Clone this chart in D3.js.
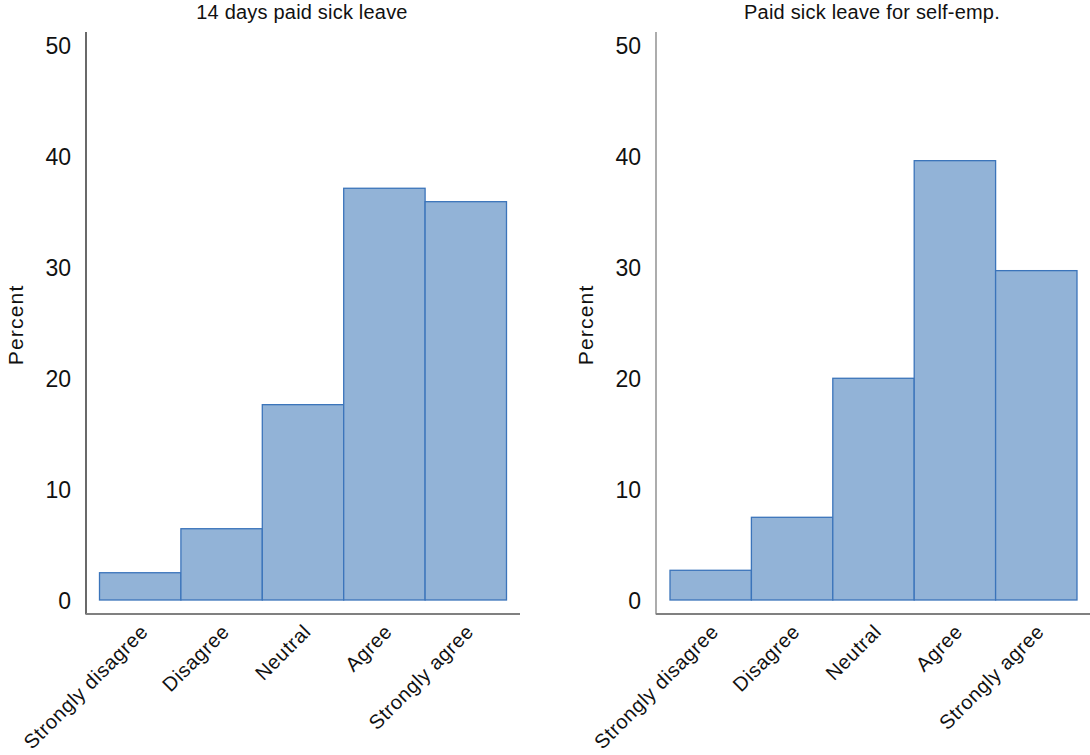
<!DOCTYPE html>
<html>
<head>
<meta charset="utf-8">
<script src="https://cdn.jsdelivr.net/npm/d3@7"></script>
<style>
  html, body { margin: 0; padding: 0; background: #fff; }
  svg text { font-family: "Liberation Sans", Arial, Helvetica, sans-serif; fill: #111; }
</style>
</head>
<body>
<svg id="chart" width="1090" height="755"></svg>
<script>
const categories = ["Strongly disagree", "Disagree", "Neutral", "Agree", "Strongly agree"];
const titles = ["14 days paid sick leave", "Paid sick leave for self-emp."];
const sickLeave14 = [2.46, 6.43, 17.62, 37.14, 35.93];
const sickLeaveSelfEmp = [2.68, 7.46, 20.0, 39.63, 29.71];
const yTicks = [0, 10, 20, 30, 40, 50];
const yLabel = "Percent";

const panels = [
  { title: titles[0], values: sickLeave14, axisX: 86, barL: 99.5, barR: 506.5, axisR: 520, yColor: "#1a1a1a" },
  { title: titles[1], values: sickLeaveSelfEmp, axisX: 656, barL: 670, barR: 1077, axisR: 1090, yColor: "#808080" }
];

const svg = d3.select("#chart");
const y = d3.scaleLinear().domain([0, 50]).range([600, 45.7]);

panels.forEach(p => {
  const g = svg.append("g");
  const x = d3.scaleBand().domain(categories).range([p.barL, p.barR]).padding(0);

  // bars
  g.selectAll("rect.bar").data(categories).join("rect")
    .attr("class", "bar")
    .attr("x", d => x(d))
    .attr("width", x.bandwidth())
    .attr("y", (d, i) => y(p.values[i]))
    .attr("height", (d, i) => y(0) - y(p.values[i]))
    .attr("fill", "#92b3d7")
    .attr("stroke", "#3b74ba")
    .attr("stroke-width", 1.3);

  // y axis line
  g.append("line")
    .attr("x1", p.axisX).attr("x2", p.axisX)
    .attr("y1", 32).attr("y2", 614.5)
    .attr("stroke", p.yColor).attr("stroke-width", 1.3);
  // x axis line
  g.append("line")
    .attr("x1", p.axisX).attr("x2", p.axisR)
    .attr("y1", 614).attr("y2", 614)
    .attr("stroke", "#808080").attr("stroke-width", 2);

  // y tick labels
  g.selectAll("text.ytick").data(yTicks).join("text")
    .attr("class", "ytick")
    .attr("x", p.axisX - 15)
    .attr("y", d => y(d))
    .attr("dy", "0.38em")
    .attr("text-anchor", "end")
    .style("font-size", "23px")
    .text(d => d);

  // x tick labels rotated
  g.selectAll("text.xtick").data(categories).join("text")
    .attr("class", "xtick")
    .attr("text-anchor", "end")
    .attr("transform", d => `translate(${x(d) + x.bandwidth() / 2 + 9},${633}) rotate(-45)`)
    .style("font-size", "20px")
    .style("letter-spacing", "0.6px")
    .text(d => d);

  // title
  g.append("text")
    .attr("x", (p.axisX + p.axisR) / 2 - 1)
    .attr("y", 19)
    .attr("text-anchor", "middle")
    .style("font-size", "20px")
    .style("letter-spacing", "0.2px")
    .text(p.title);

  // y label
  g.append("text")
    .attr("transform", `translate(${p.axisX - 63},${y(25) + 2}) rotate(-90)`)
    .attr("text-anchor", "middle")
    .style("font-size", "21px")
    .style("letter-spacing", "1.2px")
    .text(yLabel);
});
</script>
</body>
</html>
